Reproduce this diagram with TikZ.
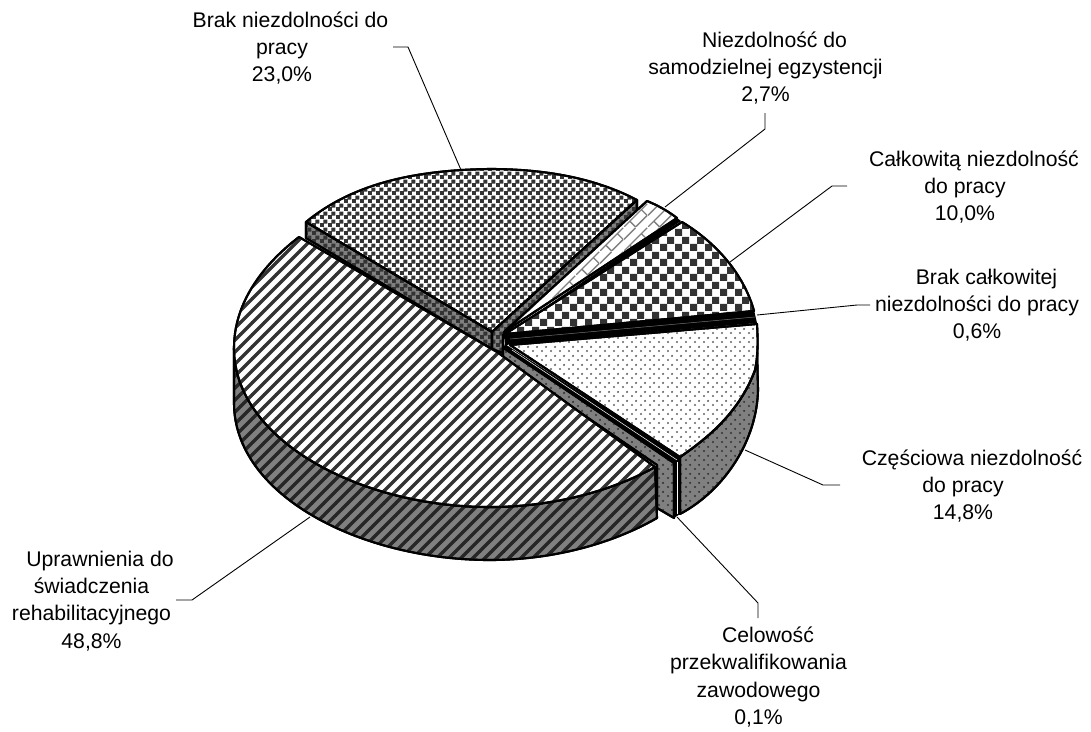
\documentclass[tikz,border=0pt]{standalone}
\usepackage{fontspec}
\setmainfont{Liberation Sans}
\usetikzlibrary{patterns}
\pgfdeclarepatternformonly{myfchk}{\pgfqpoint{0pt}{0pt}}{\pgfqpoint{8pt}{8pt}}{\pgfqpoint{8pt}{8pt}}{
 \pgfpathrectangle{\pgfqpoint{-0.2pt}{-0.2pt}}{\pgfqpoint{4.5pt}{4.5pt}}
 \pgfpathrectangle{\pgfqpoint{3.8pt}{3.8pt}}{\pgfqpoint{4.4pt}{4.4pt}}\pgfusepath{fill}}
\pgfdeclarepatternformonly{mybchk}{\pgfqpoint{0pt}{0pt}}{\pgfqpoint{15pt}{15pt}}{\pgfqpoint{15pt}{15pt}}{
 \pgfpathrectangle{\pgfqpoint{0pt}{0pt}}{\pgfqpoint{7.5pt}{7.5pt}}
 \pgfpathrectangle{\pgfqpoint{7.5pt}{7.5pt}}{\pgfqpoint{7.5pt}{7.5pt}}\pgfusepath{fill}}
\pgfdeclarepatternformonly{mydiag}{\pgfqpoint{-1pt}{-1pt}}{\pgfqpoint{13pt}{13pt}}{\pgfqpoint{12pt}{12pt}}{
 \pgfsetlinewidth{3.4pt}
 \pgfpathmoveto{\pgfqpoint{-1pt}{-1pt}}\pgfpathlineto{\pgfqpoint{13pt}{13pt}}\pgfusepath{stroke}}
\pgfdeclarepatternformonly{mydots}{\pgfqpoint{0pt}{0pt}}{\pgfqpoint{9pt}{9pt}}{\pgfqpoint{9pt}{9pt}}{
 \pgfpathcircle{\pgfqpoint{2.2pt}{2.2pt}}{1.25pt}
 \pgfpathcircle{\pgfqpoint{6.7pt}{6.7pt}}{1.25pt}\pgfusepath{fill}}
\pgfdeclarepatternformonly{mybrick}{\pgfqpoint{0pt}{0pt}}{\pgfqpoint{24pt}{24pt}}{\pgfqpoint{24pt}{24pt}}{
 \pgfsetlinewidth{1.4pt}
 \pgfpathmoveto{\pgfqpoint{0pt}{0pt}}\pgfpathlineto{\pgfqpoint{24pt}{24pt}}
 \pgfpathmoveto{\pgfqpoint{12pt}{0pt}}\pgfpathlineto{\pgfqpoint{24pt}{12pt}}
 \pgfpathmoveto{\pgfqpoint{0pt}{12pt}}\pgfpathlineto{\pgfqpoint{12pt}{24pt}}
 \pgfpathmoveto{\pgfqpoint{6pt}{6pt}}\pgfpathlineto{\pgfqpoint{12pt}{0pt}}
 \pgfpathmoveto{\pgfqpoint{18pt}{18pt}}\pgfpathlineto{\pgfqpoint{24pt}{12pt}}
 \pgfusepath{stroke}}
\definecolor{wallgray}{HTML}{808080}
\definecolor{inkdark}{HTML}{333333}
\tikzset{
 edge/.style={draw=black,line width=2.1pt,line join=round},
 top/.style={edge,fill=white},
 wall/.style={edge,fill=wallgray},
 leader/.style={draw=black,line width=0.9pt},
 lab/.style={align=center,inner sep=0pt,font=\fontsize{21.2}{27.2}\selectfont},
}
\begin{document}
\begin{tikzpicture}[x=1pt,y=-1pt]
\useasboundingbox (0,0) rectangle (1091,731);
\fill[white] (0,0) rectangle (1091,731);
% ---------- grey slice
\def\graytop{(306,222) -- (492,332) -- (637,200) .. controls (595,178) and (545,169) .. (490,169) .. controls (400,170) and (345,190) .. (306,222) -- cycle}
\path[top] \graytop;
\path[pattern=myfchk,pattern color=inkdark] \graytop;
\def\grayL{(306,222) -- (492,332) -- (492,349) -- (306,238) -- cycle}
\def\grayR{(492,332) -- (637,200) -- (637,214) -- (503,335) -- (503,353) -- (492,349) -- cycle}
\path[wall] \grayL; \path[pattern=myfchk,pattern color=inkdark] \grayL;
\path[wall] \grayR; \path[pattern=myfchk,pattern color=inkdark] \grayR;
\path[edge] \grayL; \path[edge] \grayR; \path[edge] \graytop;
% ---------- small brick slice
\def\britop{(504,332) -- (647,201) .. controls (657,205) and (668,211) .. (677,218) -- cycle}
\path[top] \britop;
\path[pattern=mybrick,pattern color=wallgray] \britop;
\path[edge] \britop;
\fill[black] (504,335) -- (677,218) -- (681,221) -- (504,339) -- cycle;
% ---------- big checker slice
\def\chktop{(505,334) -- (682,222) .. controls (720,245) and (745,278) .. (754,311) -- cycle}
\path[top] \chktop;
\path[pattern=mybchk,pattern color=inkdark] \chktop;
\path[edge] \chktop;
% ---------- black thin slice
\fill[black] (504,334) -- (754,310) -- (757,323) -- (505,345) -- cycle;
\draw[white!45!black,line width=0.5pt] (510,339) -- (755,317);
% ---------- dotted slice
\def\dotwall{(680,457) .. controls (712,435) and (740,410) .. (755,370) .. controls (757,362) and (757,352) .. (757,345) -- (758,390) .. controls (757,440) and (725,490) .. (680,514) -- cycle}
\path[wall] \dotwall;
\path[pattern=mydots,pattern color=inkdark] \dotwall;
\path[edge] \dotwall;
\def\dottop{(510,345) -- (757,324) .. controls (758,342) and (758,355) .. (755,370) .. controls (740,410) and (712,435) .. (680,457) -- cycle}
\path[top] \dottop;
\path[pattern=mydots,pattern color=wallgray!80!black] \dottop;
\path[edge] \dottop;
% ---------- hairline slice + front of dotted wedge
\def\dotside{(503,347) -- (674,463) -- (674,518) -- (657,508) -- (657,465) -- (503,360) -- cycle}
\path[wall] \dotside;
\path[pattern=mydots,pattern color=inkdark] \dotside;
\path[edge] \dotside;
\fill[black] (505,344) -- (680,457) -- (680,514) -- (674,518) -- (674,463) -- (503,349) -- cycle;
\draw[white,line width=0.7pt] (677,462) -- (677,514);
\draw[white,line width=0.5pt] (512,350) -- (677,460);
% ---------- main slice
\def\maintop{(299,237) -- (497,352) -- (655,467) .. controls (610,492) and (550,507) .. (490,507) .. controls (360,507) and (234,440) .. (234,348) .. controls (234,305) and (260,267) .. (299,237) -- cycle}
\def\mainside{(234,348) .. controls (234,440) and (360,507) .. (490,507) .. controls (550,507) and (610,492) .. (655,467) -- (657,518) .. controls (610,545) and (550,560) .. (490,560) .. controls (360,560) and (234,495) .. (234,403) -- cycle}
\path[wall] \mainside;
\path[pattern=mydiag,pattern color=black!85] \mainside;
\path[edge] \mainside;
\path[top] \maintop;
\path[pattern=mydiag,pattern color=inkdark] \maintop;
\path[edge] \maintop;
% ---------- labels
\node[lab] (a) at (282,48) {\hspace*{17pt}Brak niezdolności do\\pracy\\23,0\%};
\node[lab] (b) at (765.5,68) {\hspace*{18pt}Niezdolność do\\samodzielnej egzystencji\\2,7\%};
\node[lab] (c) at (965,187) {\hspace*{18pt}Całkowitą niezdolność\\do pracy\\10,0\%};
\node[lab] (d) at (977,305) {\hspace*{19pt}Brak całkowitej\\niezdolności do pracy\\0,6\%};
\node[lab] (e) at (963,486) {\hspace*{18pt}Częściowa niezdolność\\do pracy\\14,8\%};
\node[lab] (f) at (758.5,677) {\hspace*{19pt}Celowość\\przekwalifikowania\\zawodowego\\0,1\%};
\node[lab] (g) at (91.5,601) {\hspace*{17pt}Uprawnienia do\\świadczenia\\rehabilitacyjnego\\48,8\%};
% ---------- leaders
\coordinate (a1) at (461,170); \coordinate (a2) at (408,47); \coordinate (a3) at (393,47);
\coordinate (b1) at (665,207); \coordinate (b2) at (765,129); \coordinate (b3) at (765,113);
\coordinate (c1) at (730,262); \coordinate (c2) at (832,186); \coordinate (c3) at (847,186);
\coordinate (d1) at (757,315); \coordinate (d2) at (857,305); \coordinate (d3) at (870,305);
\coordinate (e1) at (745,450); \coordinate (e2) at (823,485); \coordinate (e3) at (840,485);
\coordinate (f1) at (677,517); \coordinate (f2) at (758,603); \coordinate (f3) at (758,618);
\coordinate (g1) at (310,517); \coordinate (g2) at (192,600); \coordinate (g3) at (176,600);
\draw[leader] (a1) -- (a2) -- (a3);
\draw[leader] (b1) -- (b2) -- (b3);
\draw[leader] (c1) -- (c2) -- (c3);
\draw[leader] (d1) -- (d2) -- (d3);
\draw[leader] (e1) -- (e2) -- (e3);
\draw[leader] (f1) -- (f2) -- (f3);
\draw[leader] (g1) -- (g2) -- (g3);
\end{tikzpicture}
\end{document}
